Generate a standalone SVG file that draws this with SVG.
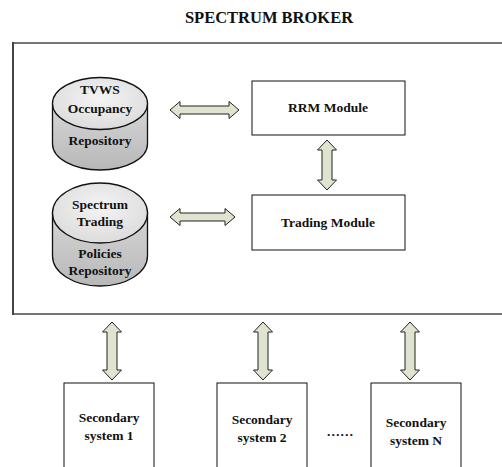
<svg xmlns="http://www.w3.org/2000/svg" width="502" height="467" viewBox="0 0 502 467">
<defs>
<linearGradient id="body" x1="0" y1="0" x2="0" y2="1">
<stop offset="0" stop-color="#d6d6d6"/>
<stop offset="1" stop-color="#b8b8b8"/>
</linearGradient>
<radialGradient id="top" cx="0.5" cy="0.4" r="0.6">
<stop offset="0" stop-color="#f4f4f4"/>
<stop offset="1" stop-color="#dcdcdc"/>
</radialGradient>
</defs>
<style>
.t{font-family:"Liberation Serif","Times New Roman",serif;font-weight:bold;font-size:13.5px;fill:#111;text-anchor:middle}
.title{font-size:16.5px}
.box{fill:#fff;stroke:#111;stroke-width:1}
.arr{fill:#dfe4d0;stroke:#222;stroke-width:1;stroke-linejoin:miter}
.cyl{fill:url(#body);stroke:#111;stroke-width:1.3}
.cyltop{fill:url(#top);stroke:#111;stroke-width:1.3}
</style>
<rect width="502" height="467" fill="#fff"/>
<text class="t title" x="269" y="23">SPECTRUM BROKER</text>
<g id="broker">
<rect x="13" y="43" width="492" height="271" fill="#fff" stroke="#757575" stroke-width="2"/>
<line x1="13" y1="42" x2="13" y2="315" stroke="#333" stroke-width="1.5"/>
</g>
<g id="tvws">
<path class="cyl" d="M52.5,103.5 L52.5,144 A47.5,26 0 0 0 147.5,144 L147.5,103.5 Z"/>
<ellipse class="cyltop" cx="100" cy="103.5" rx="47.5" ry="26"/>
<text class="t" x="100" y="94">TVWS</text>
<text class="t" x="100" y="113">Occupancy</text>
<text class="t" x="100" y="145">Repository</text>
</g>
<g id="policies">
<path class="cyl" d="M52.5,213 L52.5,256 A47.5,30 0 0 0 147.5,256 L147.5,213 Z"/>
<ellipse class="cyltop" cx="100" cy="213" rx="47.5" ry="30"/>
<text class="t" x="100" y="209">Spectrum</text>
<text class="t" x="100" y="226">Trading</text>
<text class="t" x="100" y="258">Policies</text>
<text class="t" x="100" y="275">Repository</text>
</g>
<g id="rrm">
<rect class="box" x="252" y="81" width="153" height="54"/>
<text class="t" x="328" y="112">RRM Module</text>
</g>
<g id="trading">
<rect class="box" x="252" y="195" width="153" height="55"/>
<text class="t" x="328" y="227">Trading Module</text>
</g>
<g id="sec1">
<rect class="box" x="64" y="383" width="90" height="90"/>
<text class="t" x="109" y="422">Secondary</text>
<text class="t" x="109" y="440">system 1</text>
</g>
<g id="sec2">
<rect class="box" x="217" y="383" width="90" height="90"/>
<text class="t" x="262" y="424">Secondary</text>
<text class="t" x="262" y="442">system 2</text>
</g>
<g id="secN">
<rect class="box" x="371" y="383" width="90" height="90"/>
<text class="t" x="416" y="427">Secondary</text>
<text class="t" x="416" y="445">system N</text>
</g>
<text class="t" x="340" y="436">……</text>
<g id="connectors">
<path class="arr" d="M170,110 L180,101.5 L180,106 L229,106 L229,101.5 L239,110 L229,118.5 L229,114 L180,114 L180,118.5 Z"/>
<path class="arr" d="M170,217 L180,208.5 L180,213 L225,213 L225,208.5 L235,217 L225,225.5 L225,221 L180,221 L180,225.5 Z"/>
<path class="arr" d="M327,140 L336.5,150 L332,150 L332,180 L336.5,180 L327,190 L317.5,180 L322,180 L322,150 L317.5,150 Z"/>
<path class="arr" d="M112,322 L121.5,332 L117,332 L117,370 L121.5,370 L112,380 L102.5,370 L107,370 L107,332 L102.5,332 Z"/>
<path class="arr" d="M263,322 L272.5,332 L268,332 L268,370 L272.5,370 L263,380 L253.5,370 L258,370 L258,332 L253.5,332 Z"/>
<path class="arr" d="M410,322 L419.5,332 L415,332 L415,370 L419.5,370 L410,380 L400.5,370 L405,370 L405,332 L400.5,332 Z"/>
</g>
</svg>
